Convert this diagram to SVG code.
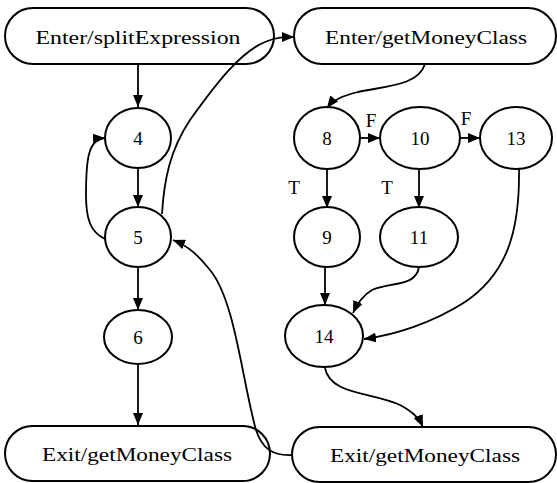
<svg xmlns="http://www.w3.org/2000/svg" width="557" height="483" viewBox="0 0 557 483">
<style>
.n{fill:none;stroke:#000;stroke-width:2}
.t{font-family:"Liberation Serif",serif;font-size:19px;fill:#000;text-anchor:middle;dominant-baseline:central}
.e{fill:none;stroke:#000;stroke-width:1.8}
</style>
<defs>
<marker id="a" markerWidth="12" markerHeight="10" refX="12" refY="5" orient="auto" markerUnits="userSpaceOnUse">
<path d="M0,0 L12,5 L0,10 Z" fill="#000"/>
</marker>
</defs>
<rect width="557" height="483" fill="#fff"/>
<g id="enter_split"><rect class="n" x="5" y="8" width="269" height="56" rx="28"/><text class="t" x="138" y="37" textLength="205" lengthAdjust="spacingAndGlyphs">Enter/splitExpression</text></g>
<g id="enter_money"><rect class="n" x="294" y="8" width="262" height="56" rx="28"/><text class="t" x="426" y="37" textLength="202" lengthAdjust="spacingAndGlyphs">Enter/getMoneyClass</text></g>
<g id="n4"><ellipse class="n" cx="138" cy="138" rx="33" ry="30"/><text class="t" x="138" y="138">4</text></g>
<g id="n5"><ellipse class="n" cx="138" cy="237" rx="33" ry="30"/><text class="t" x="138" y="237">5</text></g>
<g id="n6"><ellipse class="n" cx="138" cy="337" rx="34" ry="27"/><text class="t" x="138" y="337">6</text></g>
<g id="n8"><ellipse class="n" cx="327" cy="138" rx="33" ry="31"/><text class="t" x="327" y="138">8</text></g>
<g id="n10"><ellipse class="n" cx="420" cy="138" rx="40" ry="31"/><text class="t" x="420" y="138">10</text></g>
<g id="n13"><ellipse class="n" cx="516" cy="138" rx="36" ry="31"/><text class="t" x="516" y="138">13</text></g>
<g id="n9"><ellipse class="n" cx="327" cy="237" rx="33" ry="30"/><text class="t" x="327" y="237">9</text></g>
<g id="n11"><ellipse class="n" cx="419" cy="237" rx="39" ry="30"/><text class="t" x="419" y="237">11</text></g>
<g id="n14"><ellipse class="n" cx="324" cy="336" rx="39" ry="31"/><text class="t" x="324" y="336">14</text></g>
<g id="exit_left"><rect class="n" x="5" y="426" width="265" height="55" rx="27.5"/><text class="t" x="137" y="454" textLength="190" lengthAdjust="spacingAndGlyphs">Exit/getMoneyClass</text></g>
<g id="exit_right"><rect class="n" x="292" y="427" width="264" height="55" rx="27.5"/><text class="t" x="425" y="455" textLength="190" lengthAdjust="spacingAndGlyphs">Exit/getMoneyClass</text></g>
<g id="edges">
<path class="e" marker-end="url(#a)" d="M138,64 L138,107"/>
<path class="e" marker-end="url(#a)" d="M138,168 L138,207"/>
<path class="e" marker-end="url(#a)" d="M105,239 C90,232 86,218 86,195 C86,160 88,139 105,138"/>
<path class="e" marker-end="url(#a)" d="M162,214 C164,180 170,150 190,120 C215,85 240,52 265,42 C276,37 285,37 294,37"/>
<path class="e" marker-end="url(#a)" d="M138,267 L138,310"/>
<path class="e" marker-end="url(#a)" d="M138,363 L138,425"/>
<path class="e" marker-end="url(#a)" d="M292,455 C272,456 262,448 256,430 C242,380 235,300 210,270 C198,255 188,246 173,240"/>
<path class="e" marker-end="url(#a)" d="M425,64 C418,86 385,86 358,92 C342,96 333,100 327,108"/>
<path class="e" marker-end="url(#a)" d="M360,138 L380,138"/>
<path class="e" marker-end="url(#a)" d="M460,138 L480,138"/>
<path class="e" marker-end="url(#a)" d="M327,169 L327,208"/>
<path class="e" marker-end="url(#a)" d="M419,169 L419,208"/>
<path class="e" marker-end="url(#a)" d="M325,267 L325,305"/>
<path class="e" marker-end="url(#a)" d="M419,267 C416,287 390,282 372,290 C362,296 357,304 353,313"/>
<path class="e" marker-end="url(#a)" d="M519,169 C520,235 505,275 465,302 C432,323 395,335 364,339"/>
<path class="e" marker-end="url(#a)" d="M325,368 C330,395 372,392 400,405 C413,412 419,418 423,427"/>
</g>
<g id="lbl">
<text class="t" x="371" y="120">F</text>
<text class="t" x="466" y="118">F</text>
<text class="t" x="294" y="187">T</text>
<text class="t" x="387" y="187">T</text>
</g>
</svg>
